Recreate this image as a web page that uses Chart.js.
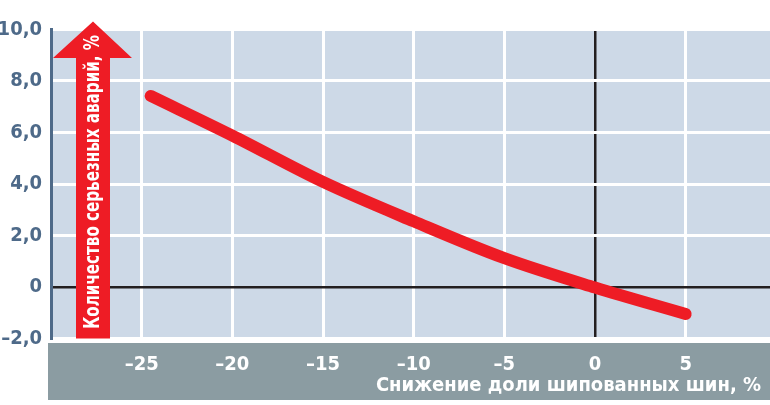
<!DOCTYPE html>
<html><head><meta charset="utf-8">
<script src="https://cdn.jsdelivr.net/npm/chart.js@4.4.1/dist/chart.umd.min.js"></script>
<style>html,body{margin:0;padding:0;background:#fff;overflow:hidden}#wrap{width:770px;height:405px;position:relative}</style>
</head><body><div id="wrap"><canvas id="c" width="770" height="405"></canvas></div>
<script>
const reductionShare = [-24.5, -20, -15, -10, -5, 0, 5];
const seriousAccidents = [7.42, 5.88, 4.08, 2.55, 1.12, -0.02, -1.05];
const xTickValues = [-25, -20, -15, -10, -5, 0, 5];
const yTickValues = [-2, 0, 2, 4, 6, 8, 10];
const xTitle = 'Снижение доли шипованных шин, %';
const yTitle = 'Количество серьезных аварий, %';

const FAM = '"Liberation Sans Narrow", "DejaVu Sans Condensed", "Arial Narrow", sans-serif';
const RED = '#ee1c25';
const AXIS_BLUE = '#4e6a89';

const bgPlugin = {
  id: 'bg',
  beforeDraw(chart) {
    const {ctx, chartArea: a} = chart;
    ctx.save();
    ctx.fillStyle = '#cdd9e7';
    ctx.fillRect(a.left, a.top, a.right - a.left, a.bottom - a.top);
    ctx.fillStyle = '#8b9ca2';
    ctx.fillRect(a.left - 3, a.bottom + 4.5, chart.width - (a.left - 3), 57);
    ctx.restore();
  }
};

const arrowPlugin = {
  id: 'arrow',
  afterDatasetsDraw(chart) {
    const {ctx, chartArea: a} = chart;
    ctx.save();
    ctx.fillStyle = RED;
    ctx.beginPath();
    ctx.moveTo(76, a.bottom);
    ctx.lineTo(76, 58);
    ctx.lineTo(53, 58);
    ctx.lineTo(93, 21.5);
    ctx.lineTo(132, 58);
    ctx.lineTo(110, 58);
    ctx.lineTo(110, a.bottom);
    ctx.closePath();
    ctx.fill();
    ctx.translate(99, 329);
    ctx.rotate(-Math.PI / 2);
    ctx.fillStyle = '#ffffff';
    ctx.font = 'bold 21px ' + FAM;
    ctx.textAlign = 'left';
    ctx.textBaseline = 'alphabetic';
    ctx.fillText(yTitle, 0, 0, 294);
    ctx.restore();
  }
};

const gridColor = c => (c.tick && c.tick.value === 0) ? '#231f20' : '#ffffff';
const gridWidth = c => (c.tick && c.tick.value === 0) ? 2.5 : 3;
const dash = '\u2013';

new Chart(document.getElementById('c'), {
  type: 'line',
  data: {
    datasets: [{
      data: reductionShare.map((x, i) => ({x: x, y: seriousAccidents[i]})),
      borderColor: RED,
      borderWidth: 12,
      borderCapStyle: 'round',
      borderJoinStyle: 'round',
      pointRadius: 0,
      cubicInterpolationMode: 'monotone',
      fill: false,
      clip: false
    }]
  },
  options: {
    responsive: false,
    animation: false,
    events: [],
    layout: {padding: {top: 29.5, left: 0, right: 0, bottom: 0}},
    plugins: {legend: {display: false}, tooltip: {enabled: false}},
    scales: {
      x: {
        type: 'linear', min: -30, max: 9.65,
        afterBuildTicks: s => { s.ticks = xTickValues.map(v => ({value: v})); },
        afterFit: s => { s.height = 66.5; },
        grid: {drawTicks: false, color: gridColor, lineWidth: gridWidth},
        border: {display: false},
        ticks: {
          color: '#ffffff', padding: 14, maxRotation: 0, autoSkip: false,
          font: {family: FAM, size: 20, weight: 'bold'},
          callback: v => v < 0 ? dash + Math.abs(v) : String(v)
        },
        title: {
          display: true, text: xTitle + '\u2002', align: 'end', color: '#ffffff',
          font: {family: FAM, size: 20, weight: 'bold'},
          padding: {top: 0, bottom: 7}
        }
      },
      y: {
        type: 'linear', min: -2, max: 10,
        afterBuildTicks: s => { s.ticks = yTickValues.map(v => ({value: v})); },
        afterFit: s => { s.width = 51; },
        grid: {drawTicks: false, color: gridColor, lineWidth: gridWidth},
        border: {display: true, color: AXIS_BLUE, width: 3},
        ticks: {
          color: AXIS_BLUE, padding: 9,
          font: {family: FAM, size: 20, weight: 'bold'},
          callback: v => v === 0 ? '0' : (v < 0 ? dash : '') + Math.abs(v).toFixed(1).replace('.', ',')
        }
      }
    }
  },
  plugins: [bgPlugin, arrowPlugin]
});
</script>
</body></html>
